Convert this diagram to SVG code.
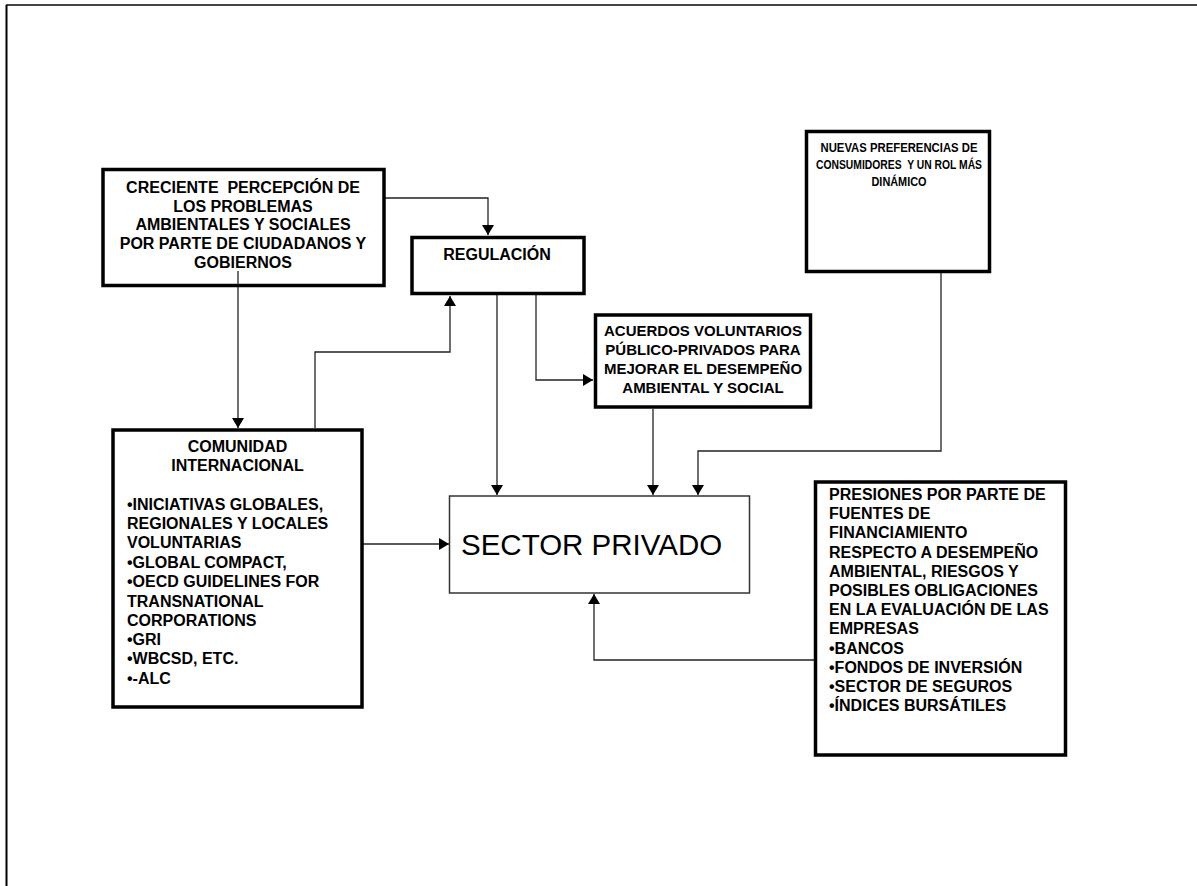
<svg xmlns="http://www.w3.org/2000/svg" width="1197" height="886" viewBox="0 0 1197 886">
<defs>
<marker id="ah" markerUnits="userSpaceOnUse" markerWidth="10" markerHeight="12" refX="10" refY="6" orient="auto">
<path d="M0,0 L10,6 L0,12 z" fill="#000"/>
</marker>
<style>
.box{fill:#fff;stroke:#000;stroke-width:3.5}
.thin{fill:#fff;stroke:#333;stroke-width:1.5}
.t{font-family:"Liberation Sans",Arial,sans-serif;font-weight:bold;font-size:16px;fill:#000}
.c{text-anchor:middle}
.s{font-size:15px}
.n{font-size:13.5px}
.big{font-family:"Liberation Sans",Arial,sans-serif;font-size:29.5px;fill:#000}
.ln{fill:none;stroke:#222;stroke-width:1.3}
</style>
</defs>
<rect width="1197" height="886" fill="#fff"/>
<g id="frame">
<line x1="6" y1="5" x2="1197" y2="5" stroke="#444" stroke-width="2"/>
<line x1="6.5" y1="5" x2="6.5" y2="886" stroke="#000" stroke-width="2"/>
</g>
<g id="connectors">
<path class="ln" d="M385,198 H488 V235" marker-end="url(#ah)"/>
<path class="ln" d="M238,271 V428" marker-end="url(#ah)"/>
<path class="ln" d="M315,428 V352 H450 V296" marker-end="url(#ah)"/>
<path class="ln" d="M363,544 H449" marker-end="url(#ah)"/>
<path class="ln" d="M497,295 V495" marker-end="url(#ah)"/>
<path class="ln" d="M536,295 V380 H593" marker-end="url(#ah)"/>
<path class="ln" d="M653,409 V495" marker-end="url(#ah)"/>
<path class="ln" d="M941,272 V451 H698 V495" marker-end="url(#ah)"/>
<path class="ln" d="M814,660 H594 V594" marker-end="url(#ah)"/>
</g>
<g id="percepcion">
<rect class="box" x="103" y="169.5" width="281" height="116"/>
<text class="t c" x="243" xml:space="preserve"><tspan x="243" y="193">CRECIENTE  PERCEPCIÓN DE</tspan><tspan x="243" y="211.7">LOS PROBLEMAS</tspan><tspan x="243" y="230.3">AMBIENTALES Y SOCIALES</tspan><tspan x="243" y="249">POR PARTE DE CIUDADANOS Y</tspan><tspan x="243" y="267.7">GOBIERNOS</tspan></text>
</g>
<path class="ln" d="M238,271 V285"/>
<g id="regulacion">
<rect class="box" x="412" y="237.5" width="172" height="56"/>
<text class="t c" x="497" y="260">REGULACIÓN</text>
</g>
<g id="acuerdos">
<rect class="box" x="595.5" y="315" width="215" height="92"/>
<text class="t c s" x="703"><tspan x="703" y="336">ACUERDOS VOLUNTARIOS</tspan><tspan x="703" y="355">PÚBLICO-PRIVADOS PARA</tspan><tspan x="703" y="374">MEJORAR EL DESEMPEÑO</tspan><tspan x="703" y="392.5">AMBIENTAL Y SOCIAL</tspan></text>
</g>
<g id="nuevas">
<rect class="box" x="806.5" y="131.5" width="183" height="140"/>
<text class="t c n" x="899" xml:space="preserve"><tspan x="899" y="152" textLength="157" lengthAdjust="spacingAndGlyphs">NUEVAS PREFERENCIAS DE</tspan><tspan x="899" y="169" textLength="166" lengthAdjust="spacingAndGlyphs">CONSUMIDORES  Y UN ROL MÁS</tspan><tspan x="899" y="186" textLength="55" lengthAdjust="spacingAndGlyphs">DINÁMICO</tspan></text>
</g>
<g id="comunidad">
<rect class="box" x="113" y="430" width="249" height="277"/>
<text class="t c" x="237.5"><tspan x="237.5" y="451.7">COMUNIDAD</tspan><tspan x="237.5" y="471">INTERNACIONAL</tspan></text>
<text class="t" x="127"><tspan x="127" y="510.3">•INICIATIVAS GLOBALES,</tspan><tspan x="127" y="529.3">REGIONALES Y LOCALES</tspan><tspan x="127" y="548.3">VOLUNTARIAS</tspan><tspan x="127" y="568">•GLOBAL COMPACT,</tspan><tspan x="127" y="587.3">•OECD GUIDELINES FOR</tspan><tspan x="127" y="606.7">TRANSNATIONAL</tspan><tspan x="127" y="626">CORPORATIONS</tspan><tspan x="127" y="645.3">•GRI</tspan><tspan x="127" y="664.3">•WBCSD, ETC.</tspan><tspan x="127" y="683.7">•-ALC</tspan></text>
</g>
<g id="sector">
<rect class="thin" x="449.5" y="496" width="300" height="97"/>
<text class="big" x="461" y="555">SECTOR PRIVADO</text>
</g>
<g id="presiones">
<rect class="box" x="815.5" y="482" width="250" height="273"/>
<text class="t" x="829"><tspan x="829" y="500">PRESIONES POR PARTE DE</tspan><tspan x="829" y="519.2">FUENTES DE</tspan><tspan x="829" y="538.4">FINANCIAMIENTO</tspan><tspan x="829" y="557.6">RESPECTO A DESEMPEÑO</tspan><tspan x="829" y="576.8">AMBIENTAL, RIESGOS Y</tspan><tspan x="829" y="596">POSIBLES OBLIGACIONES</tspan><tspan x="829" y="615.2">EN LA EVALUACIÓN DE LAS</tspan><tspan x="829" y="634.4">EMPRESAS</tspan><tspan x="829" y="653.6">•BANCOS</tspan><tspan x="829" y="672.8">•FONDOS DE INVERSIÓN</tspan><tspan x="829" y="692">•SECTOR DE SEGUROS</tspan><tspan x="829" y="711.2">•ÍNDICES BURSÁTILES</tspan></text>
</g>
</svg>
